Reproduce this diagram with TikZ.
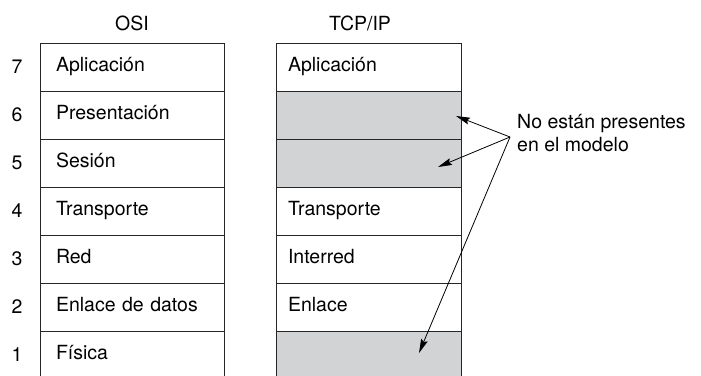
\documentclass[tikz,border=0pt]{standalone}
\usepackage{fontspec}
\setmainfont{TeX Gyre Heros}
\usetikzlibrary{arrows.meta}
\definecolor{absent}{HTML}{D2D3D5}
\tikzset{
  layer/.style={draw=black!85, line width=.9pt, rectangle, minimum height=48pt,
    inner ysep=0pt, align=left, text height=14pt, text depth=4.5pt},
  osilayer/.style={layer, text width=152pt, inner xsep=16pt},
  tcplayer/.style={layer, text width=161pt, inner xsep=12pt},
  gone/.style={fill=absent},
  pointer/.style={line width=.8pt, -{Stealth[length=14pt,width=7pt,inset=2pt]}}
}
\begin{document}
\begin{tikzpicture}[x=1pt,y=-1pt,font=\fontsize{19.5}{23}\selectfont]
\useasboundingbox (0,0) rectangle (701,375);
\clip (0,0) rectangle (701,375);

\node (osi) at (132,23) {OSI};
\node (tcpip) at (360,23) {TCP/IP};

% OSI column
\node [osilayer] (o7) at (132,67) {Aplicación};
\node [osilayer] (o6) at (132,115) {Presentación};
\node [osilayer] (o5) at (132,163) {Sesión};
\node [osilayer] (o4) at (132,211) {Transporte};
\node [osilayer] (o3) at (132,259) {Red};
\node [osilayer] (o2) at (132,307) {Enlace de datos};
\node [osilayer] (o1) at (132,355) {Física};

% layer numbers
\foreach \k in {1,...,7}
  \node (n\k) at (17,{67+48*(7-\k)}) {\k};

% TCP/IP column
\node [tcplayer] (t7) at (368.5,67) {Aplicación};
\node [tcplayer,gone] (t6) at (368.5,115) {};
\node [tcplayer,gone] (t5) at (368.5,163) {};
\node [tcplayer] (t4) at (368.5,211) {Transporte};
\node [tcplayer] (t3) at (368.5,259) {Interred};
\node [tcplayer] (t2) at (368.5,307) {Enlace};
\node [tcplayer,gone] (t1) at (368.5,355) {};

% note and pointers
\node [anchor=west, align=left, inner sep=0pt] (note) at (517,133)
  {No están presentes\\en el modelo};
\coordinate (src) at (510,137);
\coordinate (tip6) at (456,116);
\coordinate (tip5) at (438,167);
\coordinate (tip1) at (419,353);
\draw [pointer] (src) -- (tip6);
\draw [pointer] (src) -- (tip5);
\draw [pointer] (src) -- (tip1);
\end{tikzpicture}
\end{document}
